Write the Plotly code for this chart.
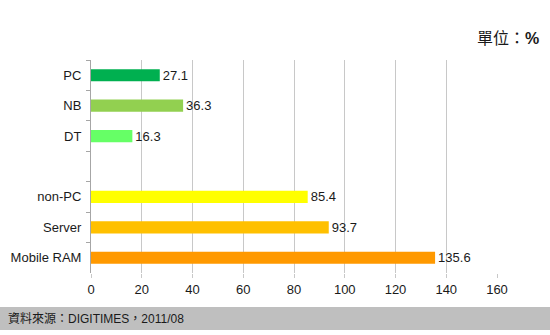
import plotly.graph_objects as go

# Growth by DRAM application segment (%)
categories = ["PC", "NB", "DT", " ", "non-PC", "Server", "Mobile RAM"]
values = [27.1, 36.3, 16.3, None, 85.4, 93.7, 135.6]
labels = ["27.1", "36.3", "16.3", "", "85.4", "93.7", "135.6"]
bar_colors = ["#00b050", "#92d050", "#66ff66", "#ffffff", "#ffff00", "#ffc000", "#ff9900"]
x_ticks = [0, 20, 40, 60, 80, 100, 120, 140, 160]

LATIN = "Liberation Sans, Arial, sans-serif"
MIXED = "Liberation Sans, Noto Sans CJK TC, sans-serif"

# plot area in pixels
L, R, T, B = 91, 497, 60, 273
PW, PH = R - L, B - T

fig = go.Figure(
    go.Bar(
        x=values,
        y=categories,
        orientation="h",
        width=0.4,
        marker=dict(color=bar_colors, line=dict(width=0)),
        text=labels,
        textposition="outside",
        constraintext="none",
        textfont=dict(family=LATIN, size=13, color="#1a1a1a"),
        cliponaxis=False,
        hoverinfo="skip",
    )
)

fig.update_layout(
    width=550,
    height=335,
    margin=dict(l=L, r=550 - R, t=T, b=335 - B),
    paper_bgcolor="white",
    plot_bgcolor="rgba(0,0,0,0)",
    showlegend=False,
    font=dict(family=LATIN, size=13, color="#1a1a1a"),
    xaxis=dict(
        range=[0, 160],
        tickvals=x_ticks,
        showgrid=True,
        gridcolor="#c8c8c8",
        gridwidth=1,
        zeroline=False,
        showline=False,
        ticks="outside",
        ticklen=4,
        tickcolor="#c8c8c8",
        tickfont=dict(family=LATIN, size=13, color="#1a1a1a"),
        automargin=False,
        fixedrange=True,
    ),
    yaxis=dict(
        categoryorder="array",
        categoryarray=categories,
        autorange="reversed",
        showline=True,
        linecolor="#a6a6a6",
        linewidth=1,
        ticks="outside",
        tickson="boundaries",
        ticklen=4,
        tickcolor="#a6a6a6",
        ticklabelstandoff=6,
        showgrid=False,
        tickfont=dict(family=LATIN, size=13, color="#1a1a1a"),
        automargin=False,
        fixedrange=True,
    ),
    shapes=[
        dict(
            type="rect", xref="paper", yref="paper",
            x0=-L / PW, x1=(550 - L) / PW,
            y0=-(330 - B) / PH, y1=-(307 - B) / PH,
            fillcolor="#bfbfbf", line=dict(width=0), layer="below",
        )
    ],
    annotations=[
        dict(
            text="單位：<b>%</b>",
            xref="paper", yref="paper",
            x=(541 - L) / PW, y=(B - 39) / PH,
            xanchor="right", yanchor="middle",
            showarrow=False,
            font=dict(family=MIXED, size=16, color="#1a1a1a"),
        ),
        dict(
            text="資料來源：DIGITIMES，2011/08",
            xref="paper", yref="paper",
            x=(6 - L) / PW, y=-(318.5 - B) / PH,
            xanchor="left", yanchor="middle",
            showarrow=False,
            font=dict(family=MIXED, size=12, color="#1a1a1a"),
        ),
    ],
)

fig.write_html("out.html")
